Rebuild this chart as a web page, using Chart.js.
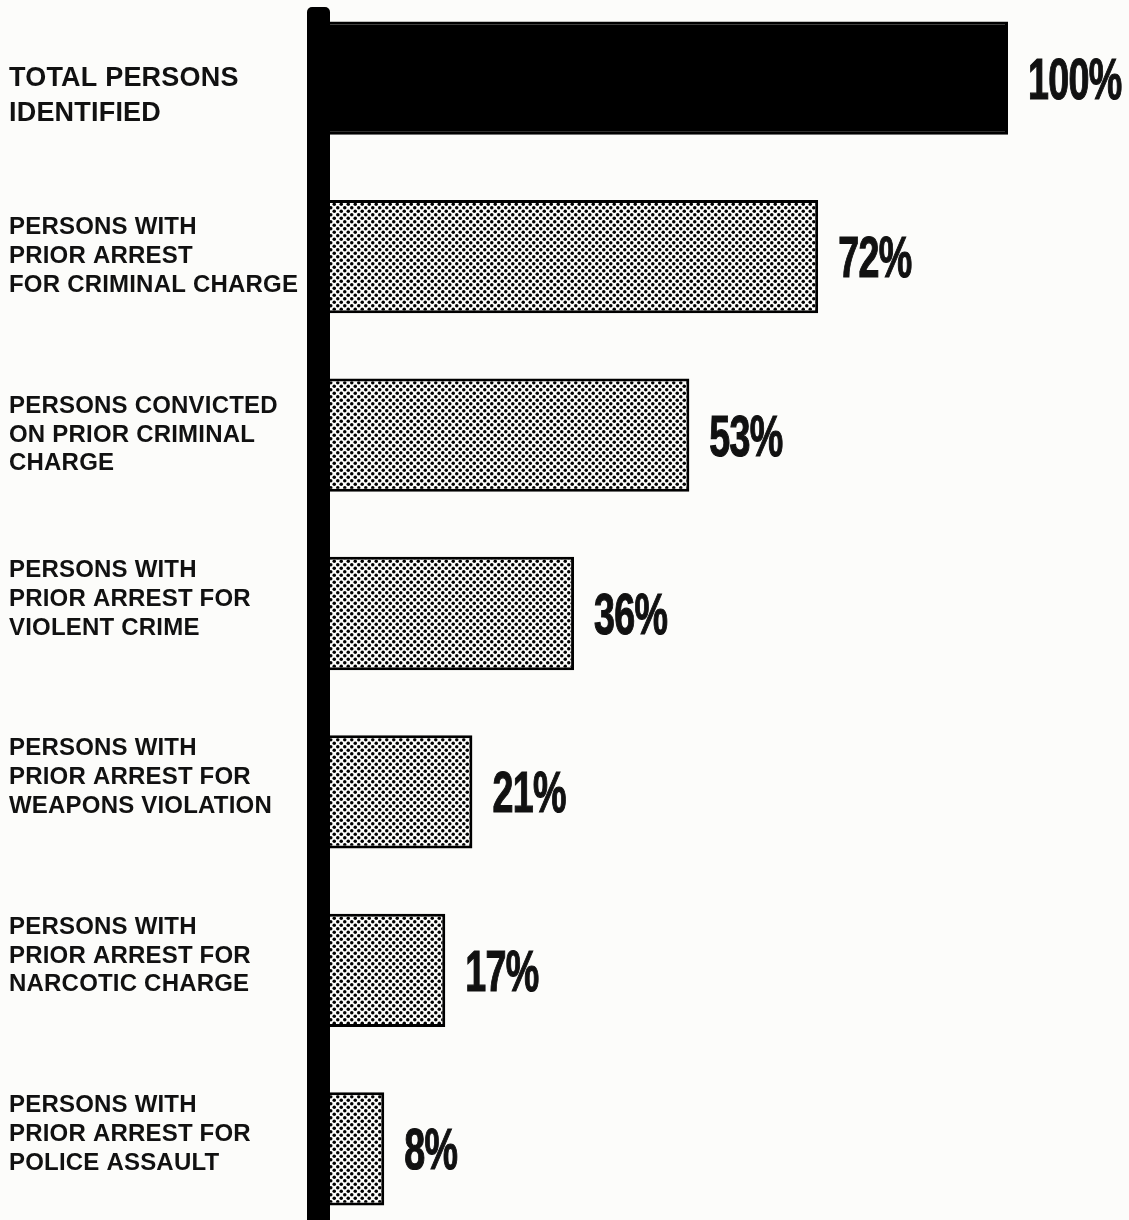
<!DOCTYPE html>
<html><head><meta charset="utf-8">
<script src="https://cdn.jsdelivr.net/npm/chart.js@4"></script>
<style>
html,body{margin:0;padding:0;background:#fcfcfa;overflow:hidden;width:1129px;height:1220px;}
#wrap{position:absolute;left:0;top:-11px;width:1129px;height:1260px;}
</style></head><body>
<div id="wrap"><canvas id="c" width="1129" height="1260"></canvas></div>
<script>
const categories = [
  ['TOTAL PERSONS', 'IDENTIFIED'],
  ['PERSONS WITH', 'PRIOR ARREST', 'FOR CRIMINAL CHARGE'],
  ['PERSONS CONVICTED', 'ON PRIOR CRIMINAL', 'CHARGE'],
  ['PERSONS WITH', 'PRIOR ARREST FOR', 'VIOLENT CRIME'],
  ['PERSONS WITH', 'PRIOR ARREST FOR', 'WEAPONS VIOLATION'],
  ['PERSONS WITH', 'PRIOR ARREST FOR', 'NARCOTIC CHARGE'],
  ['PERSONS WITH', 'PRIOR ARREST FOR', 'POLICE ASSAULT']
];
const percentages = [100, 72, 53, 36, 21, 17, 8];
const valueSuffix = '%';

// stipple pattern for the bars
function makeDots() {
  const t = document.createElement('canvas');
  t.width = 7; t.height = 7;
  const g = t.getContext('2d');
  g.fillStyle = '#fcfcfa'; g.fillRect(0, 0, 7, 7);
  g.fillStyle = '#000';
  [[1.75, 1.75], [5.25, 5.25]].forEach(([x, y]) => { g.beginPath(); g.arc(x, y, 1.75, 0, Math.PI * 2); g.fill(); });
  return document.getElementById('c').getContext('2d').createPattern(t, 'repeat');
}
const dots = makeDots();

const styleText = {
  id: 'styleText',
  beforeDraw(chart) { chart.ctx.letterSpacing = '0.2px'; }
};
const axisBar = {
  id: 'axisBar',
  afterDatasetsDraw(chart) {
    const ctx = chart.ctx, a = chart.chartArea;
    ctx.save();
    ctx.fillStyle = '#000';
    ctx.beginPath();
    const x = a.left - 23, y = a.top + 18, w = 23, h = chart.height - y;
    if (ctx.roundRect) ctx.roundRect(x, y, w, h, [5, 5, 0, 0]); else ctx.rect(x, y, w, h);
    ctx.fill();
    ctx.restore();
  }
};
const valueLabels = {
  id: 'valueLabels',
  afterDatasetsDraw(chart) {
    const ctx = chart.ctx;
    const meta = chart.getDatasetMeta(0);
    ctx.save();
    ctx.letterSpacing = '-1px';
    ctx.fillStyle = '#111';
    ctx.strokeStyle = '#111';
    ctx.lineWidth = 1.2;
    ctx.font = 'bold 57px "Liberation Sans", Arial, sans-serif';
    ctx.textBaseline = 'alphabetic';
    ctx.textAlign = 'left';
    meta.data.forEach((bar, i) => {
      ctx.save();
      ctx.translate(bar.x + 20, bar.y + 20.5);
      ctx.scale(0.66, 1);
      ctx.fillText(percentages[i] + valueSuffix, 0, 0);
      ctx.strokeText(percentages[i] + valueSuffix, 0, 0);
      ctx.restore();
    });
    ctx.restore();
  }
};

new Chart(document.getElementById('c'), {
  type: 'bar',
  data: {
    labels: categories,
    datasets: [{
      data: percentages,
      backgroundColor: (c) => c.dataIndex === 0 ? '#000' : dots,
      borderColor: '#000',
      borderWidth: 3,
      barPercentage: 0.635,
      categoryPercentage: 1
    }]
  },
  options: {
    indexAxis: 'y',
    responsive: false,
    animation: false,
    devicePixelRatio: 1,
    layout: { padding: { left: 9, right: 121, top: 0, bottom: 11 } },
    plugins: { legend: { display: false }, tooltip: { enabled: false } },
    scales: {
      x: { display: false, min: 0, max: 100 },
      y: {
        grid: { display: false, drawTicks: false },
        border: { display: false },
        afterFit(s) { s.width = 321; s.paddingTop = 0; s.paddingBottom = 0; },
        ticks: {
          crossAlign: 'far',
          padding: 0,
          autoSkip: false,
          color: '#111',
          font: (c) => c.index === 0
            ? { family: '"Liberation Sans", Arial, sans-serif', weight: 'bold', size: 27, lineHeight: 1.3 }
            : { family: '"Liberation Sans", Arial, sans-serif', weight: 'bold', size: 24, lineHeight: 1.2 },
          callback(value, index) {
            const lines = this.getLabelForValue(value);
            if (index === 0) return [''].concat(lines);
            if (index >= 3) return lines.concat(['']);
            return lines;
          }
        }
      }
    }
  },
  plugins: [styleText, axisBar, valueLabels]
});
</script>
</body></html>
